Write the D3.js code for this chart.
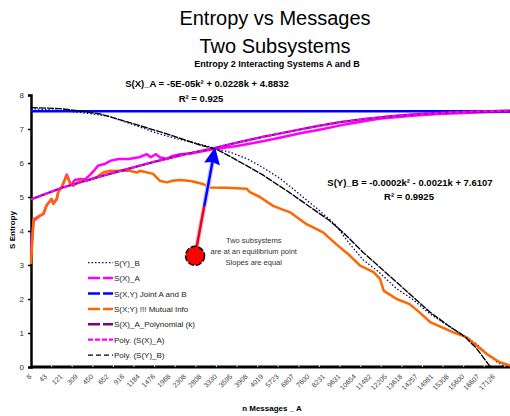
<!DOCTYPE html>
<meta charset="utf-8">
<script src="https://d3js.org/d3.v7.min.js"></script>
<style>
  body { margin: 0; background: #fff; }
  text { font-family: "Liberation Sans", Arial, sans-serif; }
</style>
<div id="my_dataviz"></div>
<script>

  // category labels on the x axis (one every 6 categories)
  var xLabels = ["8", "43", "121", "309", "450", "652", "916", "1184", "1476", "1968", "2308",
    "2808", "3330", "3595", "3908", "4019", "5723", "6807", "7600", "8231", "9631", "10654",
    "11482", "12205", "13618", "14257", "14981", "15308", "15600", "16607", "17126"];
  var yTicks = [0, 1, 2, 3, 4, 5, 6, 7, 8];

  // series as [category index k, entropy]
  var syB = [[0, 7.6], [10, 7.55], [20, 7.48], [30, 7.38], [40, 7.12], [50, 6.85], [60, 6.65],
    [66, 6.55], [72, 6.42], [78, 6.3], [84, 6.12], [90, 5.87], [97, 5.53], [104, 5.1], [112, 4.6],
    [118, 4.2], [124, 3.6], [129, 3.15], [135, 2.8], [142, 2.3], [148, 2.0], [155, 1.56],
    [161, 1.26], [168, 0.92], [173, 0.68], [178, 0.33], [181, 0.14], [184, 0.02]];
  var sxA = [[0, 3.4], [1, 4.3], [3.5, 4.45], [4.8, 4.5], [6, 4.75], [8, 4.94], [8.7, 4.8],
    [10, 4.94], [10.6, 5.15], [12, 5.3], [13.9, 5.66], [15.5, 5.35], [17, 5.5], [19, 5.53],
    [21, 5.52], [23, 5.66], [25, 5.82], [26, 5.92], [28.5, 5.97], [31, 6.07], [34, 6.12],
    [38, 6.12], [42, 6.17], [45, 6.26], [46.5, 6.17], [48.5, 6.26], [50, 6.17], [52.7, 6.12],
    [55, 6.21], [58, 6.26], [62, 6.28], [70, 6.4], [80, 6.5], [90, 6.64], [97, 6.75], [105, 6.88],
    [112, 6.98], [123, 7.15], [135, 7.3], [148, 7.39], [158, 7.44], [168, 7.47], [178, 7.5], [186, 7.51]];
  var sxyJoint = [[0, 7.52], [186, 7.52]];
  var mutual = [[0, 3.03], [1, 4.35], [3.5, 4.45], [4.8, 4.5], [6, 4.75], [8, 4.94], [8.7, 4.8],
    [10, 4.94], [10.6, 5.15], [12, 5.3], [13.9, 5.63], [15, 5.44], [16.4, 5.33], [19, 5.48],
    [21.6, 5.48], [25.5, 5.58], [28, 5.72], [30.7, 5.77], [38.4, 5.77], [41, 5.72], [42.3, 5.77],
    [47.4, 5.68], [50, 5.48], [52.7, 5.43], [55, 5.48], [58, 5.5], [62, 5.47], [66.8, 5.38],
    [69.5, 5.28], [76, 5.27], [83.8, 5.24], [85, 5.14], [88.9, 5.0], [94, 4.74], [100.6, 4.55],
    [107, 4.2], [113.4, 3.96], [118.7, 3.6], [123.9, 3.27], [127.8, 2.98], [133, 2.79],
    [135.5, 2.59], [137, 2.24], [142, 2.0], [147, 1.85], [151, 1.6], [155, 1.32], [164, 1.02],
    [169, 0.88], [173, 0.63], [177, 0.38], [182, 0.14], [186, 0.04]];
  var sxPoly = [[0, 4.93], [12, 5.27], [28, 5.63], [47, 6.02], [60, 6.26], [70, 6.42], [80, 6.6],
    [90, 6.77], [100, 6.92], [110, 7.07], [120, 7.2], [130, 7.3], [140, 7.38], [150, 7.44],
    [160, 7.48], [170, 7.51], [186, 7.54]];
  var syPoly = [[0, 7.63], [11, 7.6], [18, 7.54], [27, 7.44], [40, 7.15], [53, 6.85], [66, 6.52],
    [72, 6.41], [80, 6.08], [90, 5.65], [100, 5.15], [110, 4.62], [116, 4.3], [122, 3.9],
    [129, 3.37], [142, 2.49], [155, 1.61], [162, 1.22], [168, 0.92], [173, 0.55], [177.5, 0.09], [178.5, 0]];

  var legendNames = ["S(Y)_B", "S(X)_A", "S(X,Y) Joint A and B", "S(X;Y) !!! Mutual Info",
    "S(X)_A_Polynomial (k)", "Poly. (S(X)_A)", "Poly. (S(Y)_B)"];

  var width = 510, height = 416;
  var svg = d3.select("#my_dataviz").append("svg")
    .attr("width", width).attr("height", height);

  var x = d3.scaleLinear().domain([0, 186]).range([31, 510]);
  var y = d3.scaleLinear().domain([0, 8]).range([367, 95]);

  // titles
  svg.append("text").attr("x", 275).attr("y", 25).attr("text-anchor", "middle")
    .attr("font-size", 20).text("Entropy vs Messages");
  svg.append("text").attr("x", 275).attr("y", 53).attr("text-anchor", "middle")
    .attr("font-size", 20).text("Two Subsystems");
  svg.append("text").attr("x", 277).attr("y", 66.5).attr("text-anchor", "middle")
    .attr("font-size", 9).attr("font-weight", "bold").text("Entropy 2 Interacting Systems A and B");

  // y axis
  var yAxis = svg.append("g").attr("transform", "translate(31,0)")
    .call(d3.axisLeft(y).tickValues(yTicks).tickSize(3).tickPadding(4));
  yAxis.select(".domain").attr("stroke", "#000").attr("stroke-width", 2.5);
  yAxis.selectAll(".tick line").attr("stroke", "#000").attr("stroke-width", 1.5);
  yAxis.selectAll(".tick text").attr("font-size", 8).attr("fill", "#333")
    .attr("font-family", "Liberation Sans, Arial, sans-serif");

  // x axis: thick line, labels every 6 categories, marks every 8
  var labelK = xLabels.map(function (d, i) { return i * 6; });
  svg.append("line").attr("x1", 31).attr("x2", 510).attr("y1", y(0)).attr("y2", y(0))
    .attr("stroke", "#000").attr("stroke-width", 3);
  svg.append("g").selectAll("line").data(d3.range(8, 186, 8)).enter().append("line")
    .attr("x1", function (d) { return x(d); }).attr("x2", function (d) { return x(d); })
    .attr("y1", y(0) - 1.6).attr("y2", y(0) - 0.2)
    .attr("stroke", "#fff").attr("stroke-width", 1.2);
  svg.append("g").selectAll("text").data(labelK).enter().append("text")
    .attr("transform", function (d) { return "translate(" + (x(d) + 1) + "," + (y(0) + 10) + ") rotate(-45)"; })
    .attr("text-anchor", "end").attr("font-size", 7).attr("fill", "#444")
    .text(function (d, i) { return xLabels[i]; });

  svg.append("text").attr("x", 272).attr("y", 411).attr("text-anchor", "middle")
    .attr("font-size", 8).attr("font-weight", "bold").text("n Messages _ A");
  svg.append("text").attr("transform", "translate(15,230) rotate(-90)").attr("text-anchor", "middle")
    .attr("font-size", 8).attr("font-weight", "bold").text("S Entropy");

  var line = d3.line()
    .x(function (d) { return x(d[0]); })
    .y(function (d) { return y(d[1]); });

  function draw(data, color, w, dash) {
    svg.append("path").datum(data)
      .attr("fill", "none").attr("stroke", color).attr("stroke-width", w)
      .attr("stroke-linejoin", "round")
      .attr("stroke-dasharray", dash || null)
      .attr("d", line);
  }

  draw(syB, "#000080", 1.3, "1.5,2");
  draw(sxA, "#ff00ff", 2.5);
  draw(sxyJoint, "#0000ff", 2.5);
  draw(mutual, "#ff6600", 2.5);
  draw(sxPoly, "#800080", 2.2);
  draw(sxPoly, "#ff00ff", 2, "5,2");
  draw(syPoly, "#000", 1.4, "7,1");

  // equations
  svg.append("text").attr("x", 207).attr("y", 87).attr("text-anchor", "middle")
    .attr("font-size", 9.5).attr("font-weight", "bold").text("S(X)_A = -5E-05k² + 0.0228k + 4.8832");
  svg.append("text").attr("x", 201).attr("y", 102).attr("text-anchor", "middle")
    .attr("font-size", 9.5).attr("font-weight", "bold").text("R² = 0.925");
  svg.append("text").attr("x", 410).attr("y", 186).attr("text-anchor", "middle")
    .attr("font-size", 9.5).attr("font-weight", "bold").text("S(Y)_B = -0.0002k² - 0.0021k + 7.6107");
  svg.append("text").attr("x", 409).attr("y", 200).attr("text-anchor", "middle")
    .attr("font-size", 9.5).attr("font-weight", "bold").text("R² = 0.9925");

  // equilibrium annotation
  var dot = [63.7, 3.27], tip = [71.5, 6.46];
  var grad = svg.append("defs").append("linearGradient").attr("id", "arrowGrad")
    .attr("gradientUnits", "userSpaceOnUse")
    .attr("x1", x(dot[0])).attr("y1", y(dot[1])).attr("x2", x(tip[0])).attr("y2", y(tip[1]));
  grad.append("stop").attr("offset", "0.45").attr("stop-color", "#ff0000");
  grad.append("stop").attr("offset", "0.47").attr("stop-color", "#0000ff");
  var ang = Math.atan2(y(tip[1]) - y(dot[1]), x(tip[0]) - x(dot[0]));
  var baseX = x(tip[0]) - 15 * Math.cos(ang), baseY = y(tip[1]) - 15 * Math.sin(ang);
  svg.append("line").attr("x1", x(dot[0])).attr("y1", y(dot[1])).attr("x2", baseX).attr("y2", baseY)
    .attr("stroke", "#c8c8ff").attr("stroke-width", 5);
  svg.append("line").attr("x1", x(dot[0])).attr("y1", y(dot[1])).attr("x2", baseX).attr("y2", baseY)
    .attr("stroke", "url(#arrowGrad)").attr("stroke-width", 2.5);
  var px = -Math.sin(ang), py = Math.cos(ang);
  svg.append("path")
    .attr("d", "M" + x(tip[0]) + "," + y(tip[1]) +
      "L" + (baseX + 8 * px - 2 * Math.cos(ang)) + "," + (baseY + 8 * py - 2 * Math.sin(ang)) +
      "L" + baseX + "," + baseY +
      "L" + (baseX - 8 * px - 2 * Math.cos(ang)) + "," + (baseY - 8 * py - 2 * Math.sin(ang)) + "Z")
    .attr("fill", "#0000ff");
  svg.append("circle").attr("cx", x(dot[0])).attr("cy", y(dot[1])).attr("r", 9.5)
    .attr("fill", "#ff0000").attr("stroke", "#000").attr("stroke-width", 1.5)
    .attr("stroke-dasharray", "6,2");

  var note = ["Two subsystems", "are at an equilibrium point", "Slopes are equal"];
  svg.append("g").selectAll("text").data(note).enter().append("text")
    .attr("x", x(86.5)).attr("y", function (d, i) { return 243 + i * 10.8; })
    .attr("text-anchor", "middle").attr("font-size", 7.5).attr("fill", "#333")
    .text(function (d) { return d; });

  // legend
  var legendStyle = [
    { c: "#000080", w: 1.3, dash: "1.5,2" },
    { c: "#ff00ff", w: 2.5, dash: "12,3" },
    { c: "#0000ff", w: 2.5, dash: "12,3" },
    { c: "#ff6600", w: 2.5, dash: "12,3" },
    { c: "#800080", w: 2.5, dash: "12,3" },
    { c: "#ff00ff", w: 2.2, dash: "5,2" },
    { c: "#000", w: 1.2, dash: "5,3" }
  ];
  var leg = svg.append("g").selectAll("g").data(legendNames).enter().append("g")
    .attr("transform", function (d, i) { return "translate(88," + (262.7 + i * 15.4) + ")"; });
  leg.append("line").attr("x1", 0).attr("x2", 25)
    .attr("stroke", function (d, i) { return legendStyle[i].c; })
    .attr("stroke-width", function (d, i) { return legendStyle[i].w; })
    .attr("stroke-dasharray", function (d, i) { return legendStyle[i].dash; });
  leg.append("text").attr("x", 26).attr("y", 3).attr("font-size", 8).attr("fill", "#222")
    .text(function (d) { return d; });

</script>
